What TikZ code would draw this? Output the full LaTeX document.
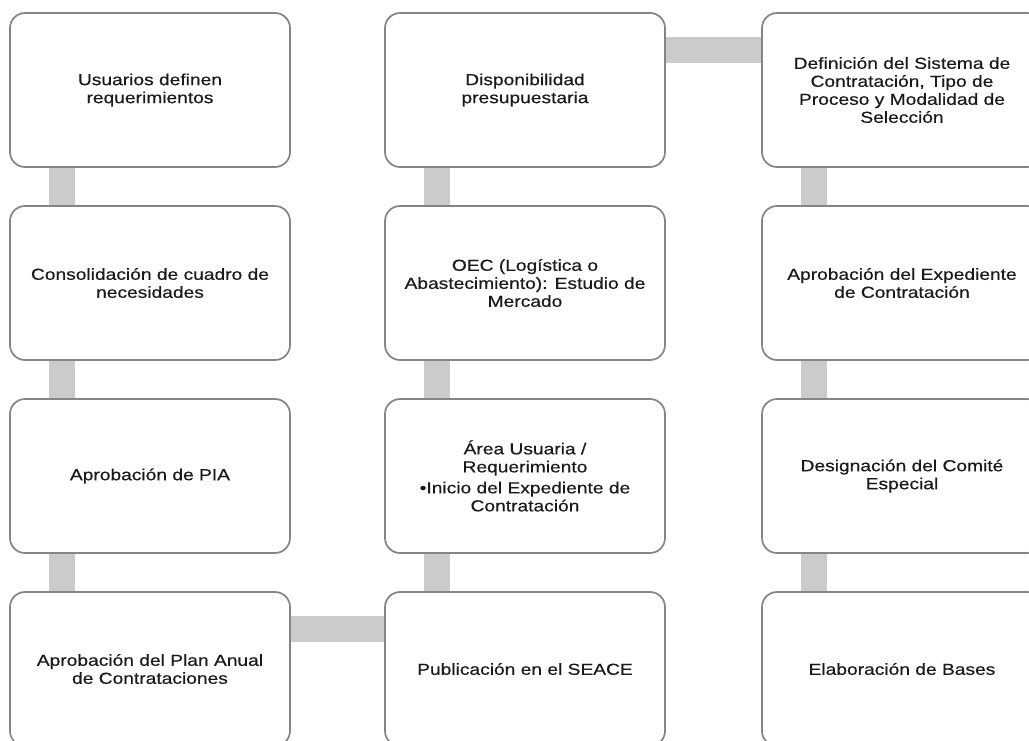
\documentclass[tikz,border=0pt]{standalone}
\usepackage{fontspec}
\setmainfont{Liberation Sans}[FakeStretch=1.2,FakeBold=0.4]
\usetikzlibrary{calc,backgrounds}
\definecolor{boxline}{HTML}{858585}
\definecolor{connfill}{HTML}{CBCBCB}
\definecolor{txt}{HTML}{1A1A1A}
\begin{document}
\begin{tikzpicture}[x=1pt,y=-1pt,
  stepbox/.style={draw=boxline, line width=1.7pt, fill=white, rounded corners=15pt,
    minimum width=280pt, minimum height=154pt, inner sep=4pt, align=center,
    text=txt, font=\fontsize{16}{18}\selectfont},
  conn/.style={draw=connfill, line width=26pt}]
\useasboundingbox (0,0) rectangle (1029,740);
\clip (0,0) rectangle (1029,740);
% column 1
\node[stepbox] (a1) at (150,90) {Usuarios definen\\requerimientos};
\node[stepbox] (a2) at (150,283) {Consolidación de cuadro de\\necesidades};
\node[stepbox] (a3) at (150,476) {Aprobación de PIA};
\node[stepbox] (a4) at (150,669) {Aprobación del Plan Anual\\de Contrataciones};
% column 2
\node[stepbox] (b1) at (525,90) {Disponibilidad\\presupuestaria};
\node[stepbox] (b2) at (525,283) {OEC (Logística o\\Abastecimiento): Estudio de\\Mercado};
\node[stepbox] (b3) at (525,476) {Área Usuaria /\\Requerimiento\\[3pt]•Inicio del Expediente de\\Contratación};
\node[stepbox] (b4) at (525,669) {Publicación en el SEACE};
% column 3
\node[stepbox] (c1) at (902,90) {Definición del Sistema de\\Contratación, Tipo de\\Proceso y Modalidad de\\Selección};
\node[stepbox] (c2) at (902,283) {Aprobación del Expediente\\de Contratación};
\node[stepbox] (c3) at (902,476) {Designación del Comité\\Especial};
\node[stepbox] (c4) at (902,669) {Elaboración de Bases};
\begin{scope}[on background layer]
  \foreach \u/\v in {a1/a2,a2/a3,a3/a4,b2/b1,b3/b2,b4/b3,c1/c2,c2/c3,c3/c4}{
    \draw[conn] ($(\u.south west)+(53,0)$) -- ($(\v.north west)+(53,0)$);
  }
  \draw[conn] ($(b1.north east)+(0,38)$) -- ($(c1.north west)+(0,38)$);
  \draw[conn] ($(a4.north east)+(0,38)$) -- ($(b4.north west)+(0,38)$);
\end{scope}
\end{tikzpicture}
\end{document}
